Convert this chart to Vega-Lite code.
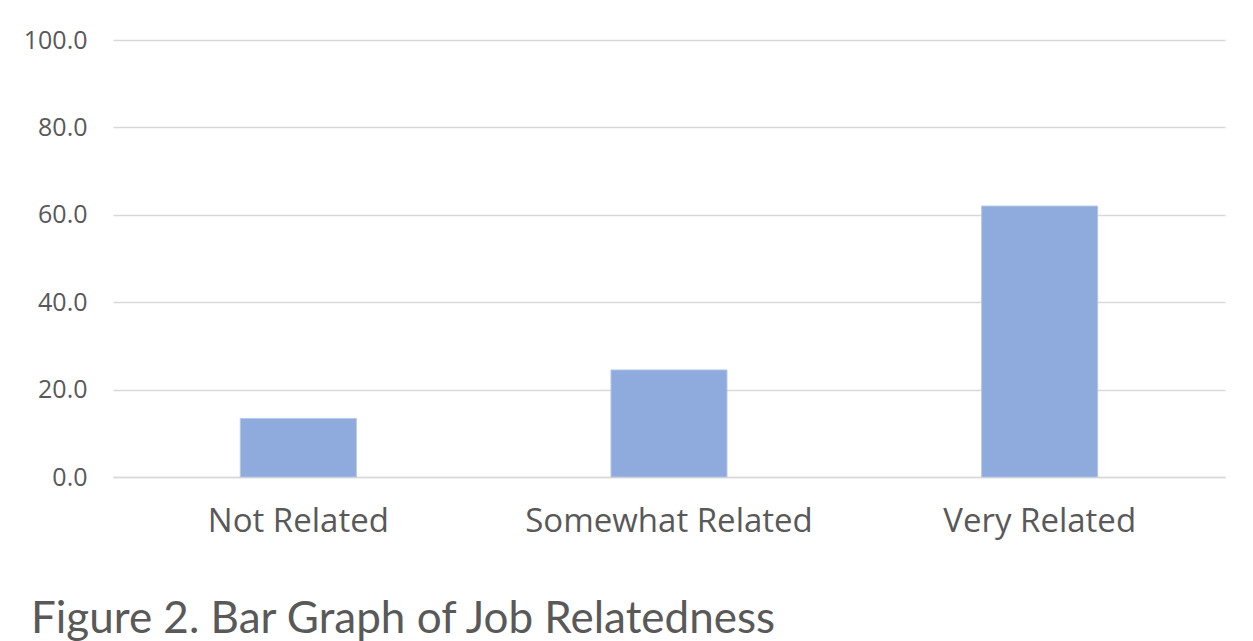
{
  "$schema": "https://vega.github.io/schema/vega-lite/v6.json",
  "autosize": "none",
  "width": 1112,
  "height": 437,
  "padding": {"left": 113, "top": 40, "right": 28, "bottom": 164},
  "background": "white",
  "data": {
    "values": [
      {"category": "Not Related", "value": 13.4},
      {"category": "Somewhat Related", "value": 24.5},
      {"category": "Very Related", "value": 62.0}
    ]
  },
  "title": {
    "text": "Figure 2. Bar Graph of Job Relatedness",
    "orient": "bottom",
    "anchor": "start",
    "frame": "group",
    "font": "Lato",
    "fontSize": 44,
    "fontWeight": "normal",
    "color": "#595959",
    "dx": -82,
    "offset": 60
  },
  "mark": {"type": "bar", "color": "#8FAADC", "stroke": "#B4C7E7", "strokeWidth": 1},
  "encoding": {
    "x": {
      "field": "category",
      "type": "nominal",
      "sort": null,
      "scale": {"paddingInner": 0.687, "paddingOuter": 0.3435},
      "axis": {
        "title": null,
        "labelAngle": 0,
        "labelFont": "Open Sans",
        "labelFontSize": 33,
        "labelLimit": 0,
        "labelColor": "#595959",
        "labelPadding": 28,
        "ticks": false,
        "domainColor": "#D9D9D9",
        "domainWidth": 1.5,
        "grid": false
      }
    },
    "y": {
      "field": "value",
      "type": "quantitative",
      "scale": {"domain": [0, 100]},
      "axis": {
        "title": null,
        "values": [0, 20, 40, 60, 80, 100],
        "format": ".1f",
        "labelFont": "Open Sans",
        "labelFontSize": 25,
        "labelColor": "#595959",
        "labelPadding": 26,
        "ticks": false,
        "domain": false,
        "grid": true,
        "gridColor": "#D9D9D9",
        "gridWidth": 1.5
      }
    }
  },
  "config": {"view": {"stroke": null}}
}
